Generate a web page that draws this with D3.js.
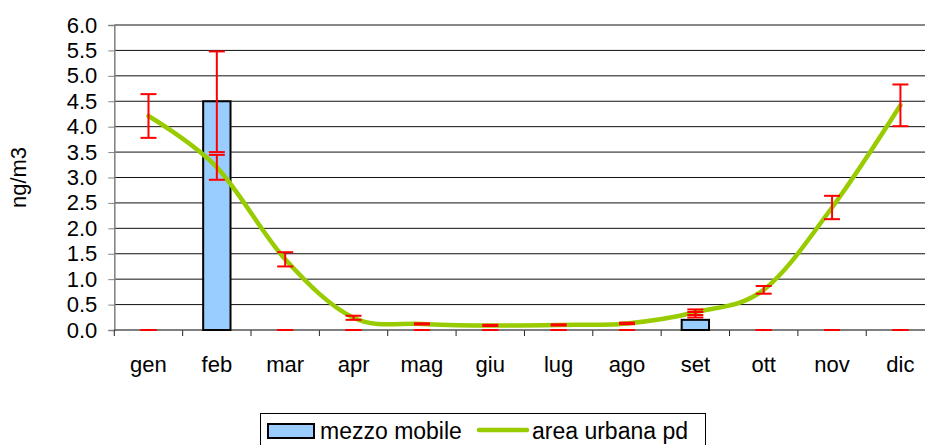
<!DOCTYPE html>
<html>
<head>
<meta charset="utf-8">
<script src="https://cdn.jsdelivr.net/npm/d3@7.9.0/dist/d3.min.js"></script>
<style>
    html, body { margin: 0; padding: 0; background: #fff; }
    svg { display: block; overflow: hidden; }
    text { font-family: "Liberation Sans", Arial, sans-serif; fill: #000; }
</style>
</head>
<body>
<svg width="925" height="445"></svg>
<script>
// months on the x axis
const months = ["gen", "feb", "mar", "apr", "mag", "giu", "lug", "ago", "set", "ott", "nov", "dic"];

// bar series "mezzo mobile" with error range (low / high)
const barValues = [0, 4.5, 0, 0, 0, 0, 0, 0, 0.2, 0, 0, 0];
const barErrLow = [0, 3.5, 0, 0, 0, 0, 0, 0, 0.246, 0, 0, 0];
const barErrHigh = [0, 5.48, 0, 0, 0, 0, 0, 0, 0.354, 0, 0, 0];

// line series "area urbana pd" with +/- error
const lineValues = [4.21, 3.2, 1.39, 0.24, 0.12, 0.09, 0.1, 0.13, 0.35, 0.79, 2.41, 4.42];
const lineErr = [0.43, 0.245, 0.14, 0.04, 0.012, 0.012, 0.012, 0.015, 0.055, 0.076, 0.23, 0.41];

// y axis ticks
const yTicks = [0, 0.5, 1, 1.5, 2, 2.5, 3, 3.5, 4, 4.5, 5, 5.5, 6];

const seriesNames = ["mezzo mobile", "area urbana pd"];

const barColor = "#99ccff";
const lineColor = "#99cc00";
const errColor = "#ff0000";

const svg = d3.select("svg");

// plot area
const plotLeft = 114.3, plotRight = 934.6, plotTop = 25, plotBottom = 330;

const x = d3.scaleBand().domain(months).range([plotLeft, plotRight]).padding(0);
const y = d3.scaleLinear().domain([0, 6]).range([plotBottom, plotTop]);

// horizontal grid lines
svg.append("g")
    .selectAll("line")
    .data(yTicks.slice(1))
    .join("line")
    .attr("x1", plotLeft)
    .attr("x2", plotRight)
    .attr("y1", d => y(d))
    .attr("y2", d => y(d))
    .attr("stroke", "#111")
    .attr("stroke-width", 1);

// y axis
const yAxis = svg.append("g")
    .attr("transform", `translate(${plotLeft},0)`)
    .call(d3.axisLeft(y).tickValues(yTicks).tickFormat(d3.format(".1f")).tickSize(6).tickPadding(11));
yAxis.select(".domain").attr("stroke", "#808080").attr("stroke-width", 1.5);
yAxis.selectAll(".tick line").attr("stroke", "#808080");
yAxis.selectAll("text").style("font-size", "22px");

// x axis labels through axisBottom, ticks at category boundaries
const xAxis = svg.append("g")
    .attr("transform", `translate(0,${plotBottom})`)
    .call(d3.axisBottom(x).tickSize(0).tickPadding(26));
xAxis.select(".domain").remove();
xAxis.selectAll("text").style("font-size", "22px");

svg.append("g")
    .selectAll("line")
    .data(months)
    .join("line")
    .attr("x1", d => x(d))
    .attr("x2", d => x(d))
    .attr("y1", plotBottom)
    .attr("y2", plotBottom + 6)
    .attr("stroke", "#222");

svg.append("line")
    .attr("x1", plotLeft).attr("x2", plotRight)
    .attr("y1", y(0)).attr("y2", y(0))
    .attr("stroke", "#555").attr("stroke-width", 1.5);

// y axis title
svg.append("text")
    .attr("transform", `translate(26,${(plotTop + plotBottom) / 2}) rotate(-90)`)
    .attr("text-anchor", "middle")
    .style("font-size", "22px")
    .text("ng/m3");

const barW = x.bandwidth() * 0.4;

// bars
svg.append("g")
    .selectAll("rect")
    .data(months.map((m, i) => ({ m, v: barValues[i] })).filter(d => d.v > 0))
    .join("rect")
    .attr("x", d => x(d.m) + (x.bandwidth() - barW) / 2)
    .attr("y", d => y(d.v))
    .attr("width", barW)
    .attr("height", d => y(0) - y(d.v))
    .attr("fill", barColor)
    .attr("stroke", "#000")
    .attr("stroke-width", 2);

// smooth line
const line = d3.line()
    .x((d, i) => x(months[i]) + x.bandwidth() / 2)
    .y(d => y(d))
    .curve(d3.curveCardinal.tension(0));

svg.append("path")
    .attr("d", line(lineValues))
    .attr("fill", "none")
    .attr("stroke", lineColor)
    .attr("stroke-width", 4.5)
    .attr("stroke-linecap", "round");

// error bars, drawn on top
function drawErrors(lows, highs) {
    const g = svg.append("g").attr("stroke", errColor).attr("stroke-width", 2);
    months.forEach((m, i) => {
        const cx = x(m) + x.bandwidth() / 2;
        const y1 = y(lows[i]), y2 = y(highs[i]);
        g.append("line").attr("x1", cx).attr("x2", cx).attr("y1", y1).attr("y2", y2);
        g.append("line").attr("x1", cx - 8).attr("x2", cx + 8).attr("y1", y1).attr("y2", y1);
        g.append("line").attr("x1", cx - 8).attr("x2", cx + 8).attr("y1", y2).attr("y2", y2);
    });
}
drawErrors(barErrLow, barErrHigh);
drawErrors(lineValues.map((v, i) => v - lineErr[i]), lineValues.map((v, i) => v + lineErr[i]));

// legend
const legend = svg.append("g");
legend.append("rect")
    .attr("x", 260.5).attr("y", 413.5)
    .attr("width", 445).attr("height", 40)
    .attr("fill", "#fff").attr("stroke", "#000");
legend.append("rect")
    .attr("x", 268).attr("y", 424)
    .attr("width", 46).attr("height", 14)
    .attr("fill", barColor).attr("stroke", "#000").attr("stroke-width", 2);
legend.append("text")
    .attr("x", 320).attr("y", 439)
    .style("font-size", "23px")
    .text(seriesNames[0]);
legend.append("line")
    .attr("x1", 479).attr("x2", 527)
    .attr("y1", 430).attr("y2", 430)
    .attr("stroke", lineColor).attr("stroke-width", 4.5)
    .attr("stroke-linecap", "round");
legend.append("text")
    .attr("x", 532).attr("y", 439)
    .style("font-size", "23px")
    .text(seriesNames[1]);
</script>
</body>
</html>
